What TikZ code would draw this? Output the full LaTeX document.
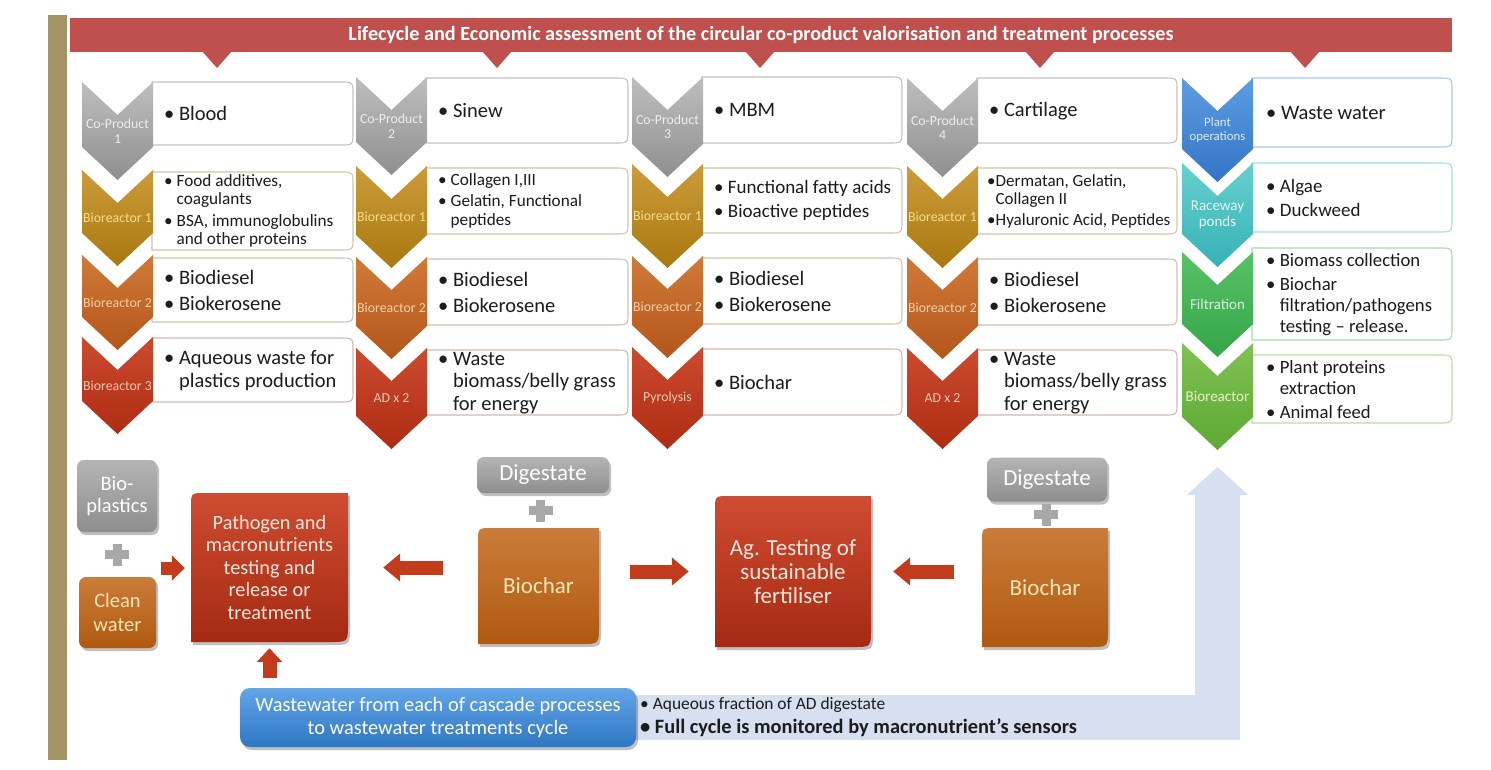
\documentclass[tikz,border=0pt]{standalone}
\usepackage{fontspec}
\setmainfont{Carlito}
\usetikzlibrary{arrows.meta,calc,backgrounds,shadows}
\definecolor{olivebar}{HTML}{A39466}
\definecolor{banner}{HTML}{C0504D}
\definecolor{gyt}{HTML}{BEBEBE}\definecolor{gyb}{HTML}{8F8F8F}\definecolor{gyl}{HTML}{EDEDED}\definecolor{gyd}{HTML}{C2C2C2}
\definecolor{gdt}{HTML}{CB9C3A}\definecolor{gdb}{HTML}{A9780F}\definecolor{gdl}{HTML}{F8DD8C}\definecolor{gdd}{HTML}{D2C6AC}
\definecolor{ort}{HTML}{D07A38}\definecolor{orb}{HTML}{B4561A}\definecolor{orl}{HTML}{F9D0A8}\definecolor{ord}{HTML}{D2C0B2}
\definecolor{rdt}{HTML}{CC4A2E}\definecolor{rdb}{HTML}{AE2C12}\definecolor{rdl}{HTML}{F9C6B2}\definecolor{rdd}{HTML}{D2B9B0}
\definecolor{blt}{HTML}{5C9DE2}\definecolor{blb}{HTML}{3474C6}\definecolor{bll}{HTML}{DCEBFA}\definecolor{bld}{HTML}{A9C7EA}
\definecolor{tlt}{HTML}{66D0D0}\definecolor{tlb}{HTML}{36B2B6}\definecolor{tll}{HTML}{E2F8F8}\definecolor{tld}{HTML}{A2DEDE}
\definecolor{grt}{HTML}{58C266}\definecolor{grb}{HTML}{34A548}\definecolor{grl}{HTML}{DDF6E0}\definecolor{grd}{HTML}{A8DAAF}
\definecolor{lgt}{HTML}{80C254}\definecolor{lgb}{HTML}{5DA833}\definecolor{lgl}{HTML}{EAF6C8}\definecolor{lgd}{HTML}{BADCA2}
\definecolor{bgt}{HTML}{B4B4B4}\definecolor{bgb}{HTML}{8E8E8E}
\definecolor{bot}{HTML}{CB7C3A}\definecolor{bob}{HTML}{B05A10}
\definecolor{brt}{HTML}{CE4C32}\definecolor{brb}{HTML}{A52A12}
\definecolor{wwt}{HTML}{62A6E8}\definecolor{wwb}{HTML}{2F76C3}
\definecolor{arr}{HTML}{C23B1C}
\definecolor{lbar}{HTML}{D6E0F1}
\definecolor{btxt}{HTML}{1C1C1C}
\definecolor{paleyel}{HTML}{FBE6B4}
\definecolor{palepink}{HTML}{FCE6DC}
\definecolor{plusc}{HTML}{A8A8A8}
\newcommand{\bu}{\textbullet\ }
\newcommand{\ind}{\hphantom{\textbullet\ }}
\newcommand{\chv}[7]{%
 \path[top color=#5t,bottom color=#5b] (#2,#3) -- ({#2+35.5},{#3+33}) -- ({#2+71},#3) -- ({#2+71},{#4-33}) -- ({#2+35.5},#4) -- (#2,{#4-33}) -- cycle;
 \coordinate (#1p) at ({#2+35.5},#4);
 \node[chl,text=#5l,#7] (#1) at ({#2+35.5},{(#3+#4)/2}) {#6};}
\newcommand{\bx}[6]{%
 \path[draw=#6,fill=white,line width=1.1pt] ({#2+70},#3) -- ({#4-13},#3) .. controls (#4,#3) .. (#4,{#3+13}) -- (#4,{#5-13}) .. controls (#4,#5) .. ({#4-13},#5) -- ({#2+70},#5) -- cycle;
 \node[inner sep=0,anchor=north west,minimum width={#4-#2-70},minimum height={#5-#3}] (#1) at ({#2+70},#3) {};}
\newcommand{\rdbox}[8]{%
 \path[top color=#6t,bottom color=#6b,shd] (#2,{#3+14}) .. controls (#2,#3) .. ({#2+14},#3) -- (#4,#3) -- (#4,{#5-18}) .. controls (#4,#5) .. ({#4-18},#5) -- (#2,#5) -- cycle;
 \node[inner sep=0,align=center,minimum width={#4-#2},minimum height={#5-#3},#7] (#1) at ({(#2+#4)/2},{(#3+#5)/2}) {#8};}
\newcommand{\plussign}[1]{%
 \fill[plusc] ($(#1)+(-12,-4.5)$) rectangle ($(#1)+(12,4.5)$);
 \fill[plusc] ($(#1)+(-4.5,-11)$) rectangle ($(#1)+(4.5,11)$);}
\begin{document}
\begin{tikzpicture}[x=1pt,y=-1pt,
 chl/.style={align=center,inner sep=0,font=\fontsize{13.8}{14.5}\selectfont},
 tx/.style={anchor=west,align=left,inner sep=0,text=btxt},
 big/.style={font=\fontsize{20.5}{24}\selectfont},
 shd/.style={drop shadow={shadow xshift=2pt,shadow yshift=-3pt,opacity=0.25,fill=black}},
 rb/.style={inner sep=0,align=center,rounded corners=7pt,shd},
 barrow/.style={draw=arr,line width=14pt,-{Triangle[length=17pt,width=27pt]}}]
\useasboundingbox (0,0) rectangle (1491,769);
\begin{scope}[on background layer]
\fill[white] (0,0) rectangle (1491,769);
\end{scope}
% left bar and banner
\fill[olivebar] (48,15) rectangle (67,760);
\node[fill=banner,minimum width=1382,minimum height=34,inner sep=0,text=white,font=\bfseries\fontsize{20.2}{22}\selectfont] (title) at (761,35) {Lifecycle and Economic assessment of the circular co-product valorisation and treatment processes};
\foreach \ax in {217,497,760,1040,1305}{\fill[banner] (\ax-15,51) -- (\ax+15,51) -- (\ax,68) -- cycle;}
% boxes
\bx{b11}{82}{82}{353}{145}{gyd}\bx{b12}{82}{172}{353}{250}{gdd}\bx{b13}{82}{258}{353}{322}{ord}\bx{b14}{82}{338}{353}{402}{rdd}
\bx{b21}{356}{78}{628}{143}{gyd}\bx{b22}{356}{168}{628}{234}{gdd}\bx{b23}{356}{259}{628}{325}{ord}\bx{b24}{356}{350}{628}{415}{rdd}
\bx{b31}{632}{77}{902}{143}{gyd}\bx{b32}{632}{168}{902}{233}{gdd}\bx{b33}{632}{258}{902}{324}{ord}\bx{b34}{632}{349}{902}{415}{rdd}
\bx{b41}{907}{78}{1177}{143}{gyd}\bx{b42}{907}{168}{1177}{234}{gdd}\bx{b43}{907}{259}{1177}{325}{ord}\bx{b44}{907}{350}{1177}{415}{rdd}
\bx{b51}{1182}{78}{1452}{147}{bld}\bx{b52}{1182}{163}{1452}{232}{tld}\bx{b53}{1182}{248}{1452}{340}{grd}\bx{b54}{1182}{355}{1452}{423}{lgd}
% chevrons
\chv{c11}{82}{82}{180}{gy}{Co-Product\\1}{}
\chv{c12}{82}{170}{266}{gd}{Bioreactor 1}{}
\chv{c13}{82}{255}{350}{or}{Bioreactor 2}{}
\chv{c14}{82}{337}{434}{rd}{Bioreactor 3}{}
\chv{c21}{356}{77}{175}{gy}{Co-Product\\2}{}
\chv{c22}{356}{166}{268}{gd}{Bioreactor 1}{}
\chv{c23}{356}{257}{359}{or}{Bioreactor 2}{}
\chv{c24}{356}{348}{449}{rd}{AD x 2}{}
\chv{c31}{632}{77}{177}{gy}{Co-Product\\3}{}
\chv{c32}{632}{164}{268}{gd}{Bioreactor 1}{}
\chv{c33}{632}{256}{358}{or}{Bioreactor 2}{}
\chv{c34}{632}{347}{449}{rd}{Pyrolysis}{}
\chv{c41}{907}{78}{177}{gy}{Co-Product\\4}{}
\chv{c42}{907}{166}{268}{gd}{Bioreactor 1}{}
\chv{c43}{907}{257}{359}{or}{Bioreactor 2}{}
\chv{c44}{907}{348}{449}{rd}{AD x 2}{}
\chv{c51}{1182}{78}{182}{bl}{Plant\\operations}{font=\fontsize{12.8}{14}\selectfont}
\chv{c52}{1182}{163}{267}{tl}{Raceway\\ponds}{font=\fontsize{15}{15.5}\selectfont}
\chv{c53}{1182}{252}{357}{gr}{Filtration}{font=\fontsize{15}{16}\selectfont}
\chv{c54}{1182}{343}{450}{lg}{Bioreactor}{font=\fontsize{15}{16}\selectfont}
% box texts
\node[tx,big] (t11) at ([xshift=12pt]b11.west) {\bu Blood};
\node[tx,font=\fontsize{17.2}{18}\selectfont] (t12) at ([xshift=12pt]b12.west) {\bu Food additives,\\\ind coagulants\\[4pt]\bu BSA, immunoglobulins\\\ind and other proteins};
\node[tx,big] (t13) at ([xshift=12pt]b13.west) {\bu Biodiesel\\[2pt]\bu Biokerosene};
\node[tx,font=\fontsize{20.5}{23}\selectfont] (t14) at ([xshift=12pt]b14.west) {\bu Aqueous waste for\\\ind plastics production};
\node[tx,big] (t21) at ([xshift=12pt]b21.west) {\bu Sinew};
\node[tx,font=\fontsize{17.2}{19}\selectfont] (t22) at ([xshift=12pt]b22.west) {\bu Collagen I,III\\[2pt]\bu Gelatin, Functional\\\ind peptides};
\node[tx,big] (t23) at ([xshift=12pt]b23.west) {\bu Biodiesel\\[2pt]\bu Biokerosene};
\node[tx,font=\fontsize{20.5}{22.5}\selectfont] (t24) at ([xshift=12pt]b24.west) {\bu Waste\\\ind biomass/belly grass\\\ind for energy};
\node[tx,big] (t31) at ([xshift=12pt]b31.west) {\bu MBM};
\node[tx,font=\fontsize{19}{21}\selectfont] (t32) at ([xshift=12pt]b32.west) {\bu Functional fatty acids\\[3pt]\bu Bioactive peptides};
\node[tx,big] (t33) at ([xshift=12pt]b33.west) {\bu Biodiesel\\[2pt]\bu Biokerosene};
\node[tx,big] (t34) at ([xshift=12pt]b34.west) {\bu Biochar};
\node[tx,big] (t41) at ([xshift=12pt]b41.west) {\bu Cartilage};
\node[tx,font=\fontsize{17}{18}\selectfont] (t42) at ([xshift=10pt]b42.west) {\textbullet Dermatan, Gelatin,\\\hphantom{\textbullet}Collagen II\\[3pt]\textbullet Hyaluronic Acid, Peptides};
\node[tx,big] (t43) at ([xshift=12pt]b43.west) {\bu Biodiesel\\[2pt]\bu Biokerosene};
\node[tx,font=\fontsize{20.5}{22.5}\selectfont] (t44) at ([xshift=12pt]b44.west) {\bu Waste\\\ind biomass/belly grass\\\ind for energy};
\node[tx,big] (t51) at ([xshift=14pt]b51.west) {\bu Waste water};
\node[tx,font=\fontsize{19}{21}\selectfont] (t52) at ([xshift=14pt]b52.west) {\bu Algae\\[3pt]\bu Duckweed};
\node[tx,font=\fontsize{18.7}{21}\selectfont] (t53) at ([xshift=14pt]b53.west) {\bu Biomass collection\\[3pt]\bu Biochar\\\ind filtration/pathogens\\\ind testing -- release.};
\node[tx,font=\fontsize{18.7}{21}\selectfont] (t54) at ([xshift=14pt]b54.west) {\bu Plant proteins\\\ind extraction\\[3pt]\bu Animal feed};
% bottom section
\node[rb,top color=bgt,bottom color=bgb,minimum width=80,minimum height=72,text=white,font=\fontsize{20.5}{22.5}\selectfont] (bio) at (117,496) {Bio-\\plastics};
\node[rb,top color=bot,bottom color=bob,minimum width=77,minimum height=71,text=paleyel,font=\fontsize{20.5}{24}\selectfont] (clean) at (117.5,612.5) {Clean\\water};
\rdbox{path}{191}{493}{348}{642}{br}{text=palepink,font=\fontsize{20.3}{22.5}\selectfont}{Pathogen and\\macronutrients\\testing and\\release or\\treatment}
\node[rb,top color=bgt,bottom color=bgb,minimum width=132,minimum height=36,text=white,font=\fontsize{23}{24}\selectfont] (dig1) at (543,475) {Digestate};
\rdbox{bc1}{478}{528}{599}{644}{bo}{text=paleyel,font=\fontsize{23}{24}\selectfont}{Biochar}
\rdbox{ag}{715}{496}{871}{647}{br}{text=palepink,font=\fontsize{23}{24}\selectfont}{Ag. Testing of\\sustainable\\fertiliser}
\node[rb,top color=bgt,bottom color=bgb,minimum width=120,minimum height=44,text=white,font=\fontsize{23}{24}\selectfont] (dig2) at (1047,479.5) {Digestate};
\rdbox{bc2}{982}{528}{1108}{647}{bo}{text=paleyel,font=\fontsize{23}{24}\selectfont}{Biochar}
\node[rb,rounded corners=10pt,top color=wwt,bottom color=wwb,minimum width=396,minimum height=59,text=white,font=\fontsize{20.4}{23}\selectfont] (ww) at (438,717.5) {Wastewater from each of cascade processes\\to wastewater treatments cycle};
% plus signs
\coordinate (p1) at ($(bio.south)!0.5!(clean.north)$);
\coordinate (p2) at ($(dig1.south)!0.5!(bc1.north)$);
\coordinate (p3) at ($(dig2.south)!0.5!(bc2.north)$);
\plussign{p1}\plussign{p2}\plussign{p3}
% block arrows
\coordinate (cwa) at (161,568);
\draw[barrow,line width=13pt,-{Triangle[length=13pt,width=25pt]},shorten >=6pt] (cwa) -- (cwa -| path.west);
\draw[barrow,shorten <=35pt,shorten >=35pt] (bc1.west |- path.east) -- (path.east);
\draw[barrow,shorten <=31pt,shorten >=26pt] (bc1.east |- ag.west) -- (ag.west);
\draw[barrow,shorten <=28pt,shorten >=22pt] (bc2.west |- ag.east) -- (ag.east);
\draw[barrow,-{Triangle[length=14pt,width=25pt]},shorten <=10pt,shorten >=6pt] (path.south |- ww.north) -- (path.south);
\begin{scope}[on background layer]
\draw[draw=lbar,line width=45pt,line join=miter,-{Triangle[length=28pt,width=60pt]},shorten >=17pt] ([xshift=-20pt]ww.east) -| (c54p);
\end{scope}
\node[tx,font=\fontsize{17.4}{18}\selectfont] (aq) at (640,705) {\textbullet\ Aqueous fraction of AD digestate};
\node[tx,font=\bfseries\fontsize{20.4}{22}\selectfont] (fc) at (640,728) {\textbullet\ Full cycle is monitored by macronutrient’s sensors};
\end{tikzpicture}
\end{document}
